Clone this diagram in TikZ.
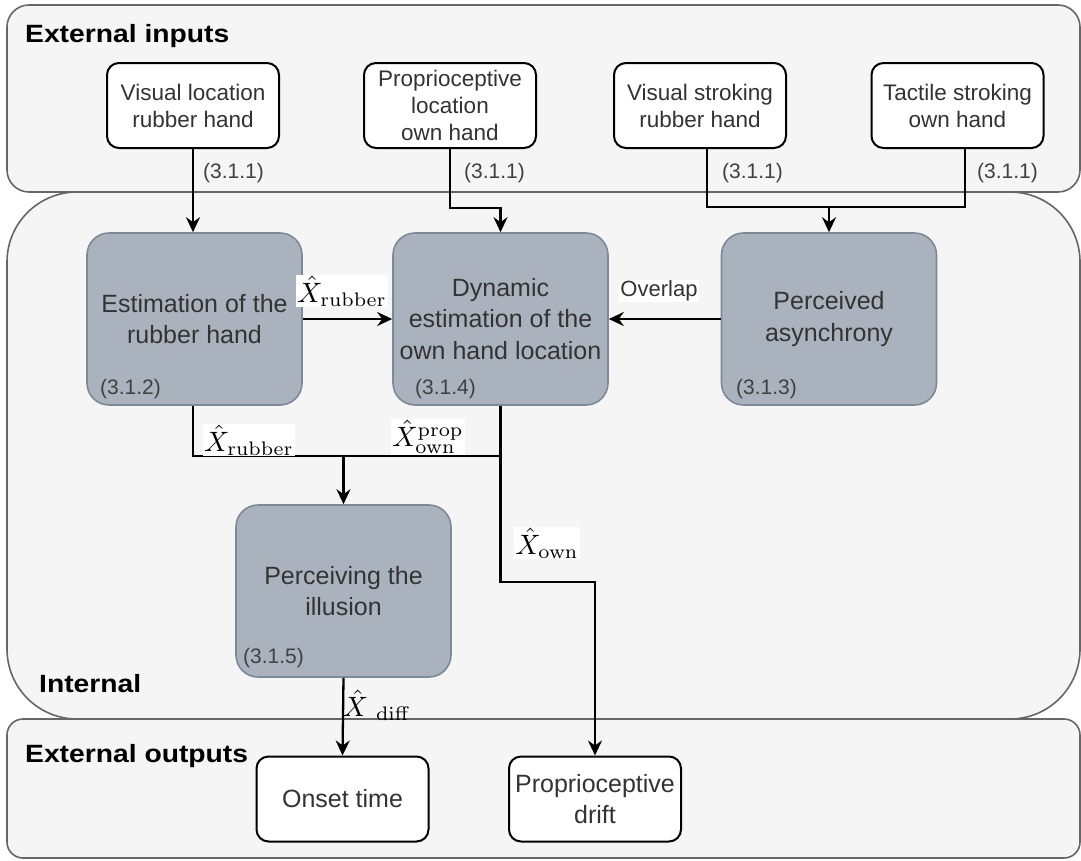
\documentclass[tikz,border=0pt]{standalone}
\usepackage[no-math]{fontspec}
\setmainfont{Liberation Sans}
\newfontfamily\titlefont{Liberation Sans}[FakeStretch=1.13]
\usetikzlibrary{arrows.meta}
\definecolor{panelfill}{HTML}{F5F5F5}
\definecolor{panelline}{HTML}{666666}
\definecolor{procfill}{HTML}{AAB3BD}
\definecolor{procline}{HTML}{7C8996}
\definecolor{txt}{HTML}{333333}
\definecolor{reftxt}{HTML}{404040}
% enlarged math for the signal labels
\newcommand\lblmath[1]{\scalebox{2.8}{$#1$}}

\begin{document}
\begin{tikzpicture}[x=1pt,y=-1pt,
  panel/.style={draw=panelline, fill=panelfill, line width=1.6pt},
  iobox/.style={draw=black, fill=white, line width=2pt, rounded corners=12pt,
    minimum width=172pt, minimum height=85pt, align=center, text=txt,
    font=\fontsize{22.5}{27}\selectfont, inner sep=0pt},
  outbox/.style={iobox, font=\fontsize{25}{31}\selectfont},
  procbox/.style={draw=procline, fill=procfill, line width=1.6pt, rounded corners=22pt,
    minimum width=215pt, minimum height=172pt, align=center, text=txt,
    font=\fontsize{25}{31.5}\selectfont, inner sep=0pt},
  refnum/.style={text=reftxt, font=\fontsize{21}{24}\selectfont, anchor=west, inner sep=0pt},
  paneltitle/.style={font=\titlefont\bfseries\fontsize{25}{28}\selectfont, anchor=base west, inner sep=0pt},
  mathlabel/.style={fill=white, inner sep=1pt},
  textlabel/.style={fill=white, inner sep=1pt, text=txt, font=\fontsize{22}{26}\selectfont},
  flow/.style={draw=black, line width=2.3pt, -{Stealth[length=15pt, width=14pt, inset=5pt]}},
  wire/.style={draw=black, line width=2.3pt},
]
\useasboundingbox (0,0) rectangle (1081,860);
\fill[white] (0,0) rectangle (1081,860);

% three layers: inputs, internal processing, outputs
\draw[panel, rounded corners=70pt] (7,192) rectangle (1080,719);
\draw[panel, rounded corners=22pt] (7,5) rectangle (1080,192);
\draw[panel, rounded corners=16pt] (7,719) rectangle (1080,858);

\node[paneltitle] (tin) at (25,42) {External inputs};
\node[paneltitle] (tint) at (39,692) {Internal};
\node[paneltitle] (tout) at (25,762) {External outputs};

% external inputs
\node[iobox] (vloc) at (193,105.5) {Visual location\\rubber hand};
\node[iobox] (ploc) at (450,105.5) {Proprioceptive\\location\\own hand};
\node[iobox] (vstr) at (700,105.5) {Visual stroking\\rubber hand};
\node[iobox] (tstr) at (957.5,105.5) {Tactile stroking\\own hand};

\node[refnum] (r1a) at (203,173) {(3.1.1)};
\node[refnum] (r1b) at (464,173) {(3.1.1)};
\node[refnum] (r1c) at (722,173) {(3.1.1)};
\node[refnum] (r1d) at (977,173) {(3.1.1)};

% internal processes
\node[procbox] (est) at (194.5,319) {Estimation of the\\rubber hand};
\node[procbox] (dyn) at (500.5,319) {Dynamic\\estimation of the\\own hand location};
\node[procbox] (asy) at (829,319) {Perceived\\asynchrony};
\node[procbox] (ill) at (343.5,591) {Perceiving the\\illusion};

\node[refnum] (r2) at (100,389) {(3.1.2)};
\node[refnum] (r4) at (415,389) {(3.1.4)};
\node[refnum] (r3) at (736,389) {(3.1.3)};
\node[refnum] (r5) at (243,658) {(3.1.5)};

% external outputs
\node[outbox] (onset) at (342.5,799) {Onset time};
\node[outbox] (drift) at (595,799) {Proprioceptive\\drift};

% input connectors
\draw[flow] (vloc.south) -- (vloc.south |- est.north);
\draw[flow] (ploc.south) -- ++(0,59) -| (dyn.north);
\coordinate (mrg) at (829,207);
\draw[wire] ([xshift=7pt]vstr.south) |- (mrg) -| ([xshift=7.5pt]tstr.south);
\draw[flow] (mrg) -- (asy.north);

% internal connectors
\draw[flow] (est.east) -- (dyn.west);
\draw[flow] (asy.west) -- (dyn.east);
\node[mathlabel] (lxr) at (342,291) {\lblmath{\hat{X}_{\mathrm{rubber}}}};
\node[textlabel] (lov) at (659,291) {Overlap};

\coordinate (jn) at (343.5,456);
\draw[wire] ([xshift=-1.5pt]est.south) |- (dyn.south |- jn);
\draw[flow] (jn) -- (ill.north);
\draw[flow] (dyn.south) -- ++(0,176) -| (drift.north);
\draw[flow] (ill.south) -- (onset.north);

\node[mathlabel] (lxr2) at (249,440) {\lblmath{\hat{X}_{\mathrm{rubber}}}};
\node[mathlabel] (lxp) at (428,437) {\lblmath{\hat{X}^{\mathrm{prop}}_{\mathrm{own}}}};
\node[mathlabel] (lxo) at (547,543) {\lblmath{\hat{X}_{\mathrm{own}}}};
\node[mathlabel, fill=none] (lxd) at (377,705) {\lblmath{\hat{X}\;{}_{\mathrm{diff}}}};
\end{tikzpicture}
\end{document}
